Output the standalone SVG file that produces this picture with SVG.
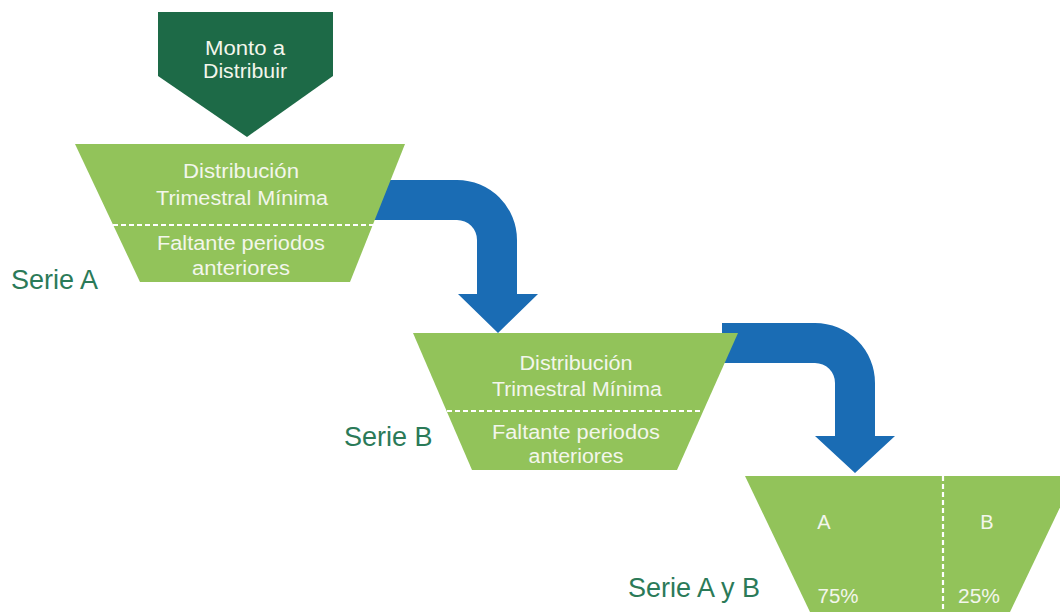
<svg xmlns="http://www.w3.org/2000/svg" width="1060" height="612" viewBox="0 0 1060 612">
<style>
.lime{fill:#92c35a}
.dash{stroke:#ffffff;stroke-width:2.2;stroke-dasharray:5 3;fill:none}
.wt{font-family:"Liberation Sans",Arial,sans-serif;font-size:20px;fill:#f3f6ec;text-anchor:middle}
.lbl{font-family:"Liberation Sans",Arial,sans-serif;font-size:27px;fill:#2b7a58}
.arrow{fill:#1a6cb4}
</style>
<rect width="1060" height="612" fill="#ffffff"/>
<g id="connectors">
<path class="arrow" d="M360,180 H457 A60,60 0 0 1 517,240 V294 H538 L498,333 L458,294 H477 V240 A20,20 0 0 0 457,220 H360 Z"/>
<path class="arrow" d="M722,323 H815 A60,60 0 0 1 875,383 V436 H895 L855,473 L815,436 H835 V383 A20,20 0 0 0 815,363 H722 Z"/>
</g>
<g id="monto">
<polygon points="158,12 333,12 333,76 247,137 158,76" fill="#1d6a47"/>
<text class="wt" x="245" y="55" textLength="80" lengthAdjust="spacingAndGlyphs">Monto a</text>
<text class="wt" x="245" y="78" textLength="84" lengthAdjust="spacingAndGlyphs">Distribuir</text>
</g>
<g id="serieA">
<polygon class="lime" points="75,144 405,144 350,282 140,282"/>
<line class="dash" x1="113" y1="225" x2="373" y2="225"/>
<text class="wt" x="241" y="178" textLength="116" lengthAdjust="spacingAndGlyphs">Distribución</text>
<text class="wt" x="242" y="205" textLength="172" lengthAdjust="spacingAndGlyphs">Trimestral Mínima</text>
<text class="wt" x="241" y="250" textLength="168" lengthAdjust="spacingAndGlyphs">Faltante periodos</text>
<text class="wt" x="241" y="275" textLength="98" lengthAdjust="spacingAndGlyphs">anteriores</text>
<text class="lbl" x="11" y="289">Serie A</text>
</g>
<g id="serieB">
<polygon class="lime" points="413,333 738,333 677,470 472,470"/>
<line class="dash" x1="447" y1="411" x2="703" y2="411"/>
<text class="wt" x="576" y="370" textLength="113" lengthAdjust="spacingAndGlyphs">Distribución</text>
<text class="wt" x="577" y="396" textLength="170" lengthAdjust="spacingAndGlyphs">Trimestral Mínima</text>
<text class="wt" x="576" y="439" textLength="168" lengthAdjust="spacingAndGlyphs">Faltante periodos</text>
<text class="wt" x="576" y="463" textLength="95" lengthAdjust="spacingAndGlyphs">anteriores</text>
<text class="lbl" x="344" y="446">Serie B</text>
</g>
<g id="serieAB">
<polygon class="lime" points="745,476 1075,476 1010,612 810,612"/>
<line class="dash" x1="943" y1="476" x2="943" y2="612"/>
<text class="wt" x="824" y="529">A</text>
<text class="wt" x="987" y="529">B</text>
<text class="wt" x="838" y="603" textLength="41" lengthAdjust="spacingAndGlyphs">75%</text>
<text class="wt" x="979" y="603" textLength="42" lengthAdjust="spacingAndGlyphs">25%</text>
<text class="lbl" x="628" y="597">Serie A y B</text>
</g>
</svg>
